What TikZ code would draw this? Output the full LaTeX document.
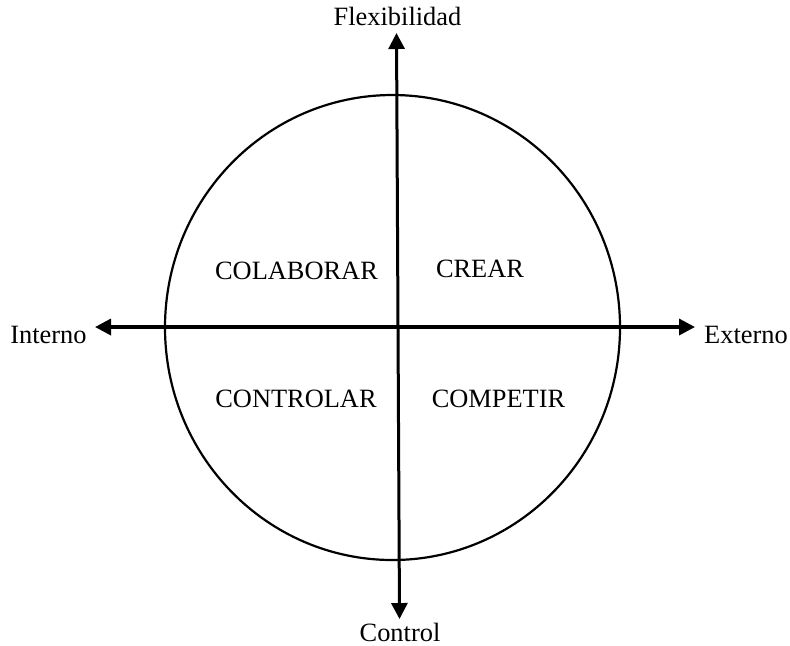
\documentclass[tikz,border=0pt]{standalone}
\usepackage{fontspec}
\setmainfont{Liberation Serif}
\usetikzlibrary{arrows.meta,shapes.geometric}

\begin{document}
\begin{tikzpicture}[
  x=0.5pt, y=-0.5pt,
  lbl/.style={font=\fontsize{13.2}{15}\selectfont, inner sep=0pt, anchor=base},
  ring/.style={draw, ellipse, line width=1.1pt, inner sep=0pt,
               minimum width=227.5pt, minimum height=232.5pt},
  axis/.style={-{Triangle[length=8pt, width=8pt]}, line width=1.5pt}
]
\useasboundingbox (0,0) rectangle (790,645);
% circle and axis ends
\node[ring] (circ) at (392.5,327.5) {};
\coordinate (flexTip) at (396.5,33);
\coordinate (ctrlTip) at (399.5,619);
\coordinate (intTip) at (95,327);
\coordinate (extTip) at (695,327);
\coordinate (orig) at (398,327);
% axes
\draw[axis] (orig) -- (flexTip);
\draw[axis] (orig) -- (ctrlTip);
\draw[axis, line width=1.7pt] (orig) -- (intTip);
\draw[axis, line width=1.7pt] (orig) -- (extTip);
% axis labels
\node[lbl] (flex) at (397.5,25) {Flexibilidad};
\node[lbl] (ctrl) at (400,641) {Control};
\node[lbl] (int) at (48.5,343) {Interno};
\node[lbl] (ext) at (746,343) {Externo};
% quadrants
\node[lbl] (colab) at (296.5,279) {COLABORAR};
\node[lbl] (crear) at (480,277) {CREAR};
\node[lbl] (contr) at (296,407) {CONTROLAR};
\node[lbl] (compe) at (498.5,407) {COMPETIR};
\end{tikzpicture}
\end{document}
